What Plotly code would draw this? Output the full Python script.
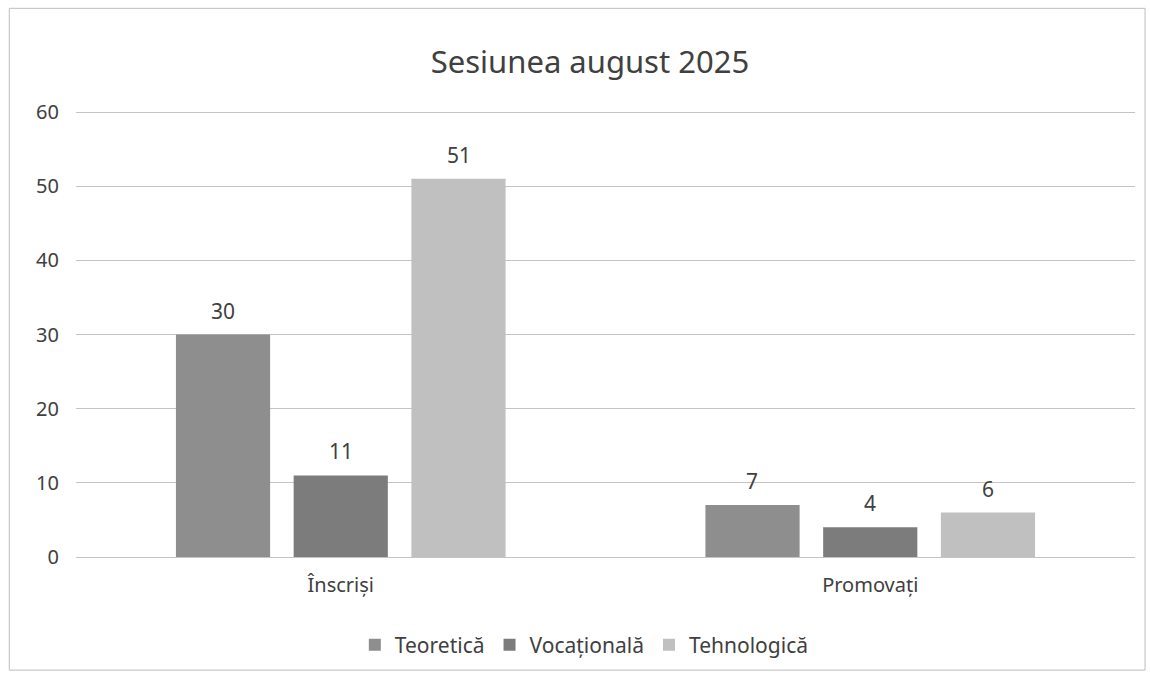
import plotly.graph_objects as go

categories = ["Înscriși", "Promovați"]
series_names = ["Teoretică", "Vocațională", "Tehnologică"]
teoretica = [30, 7]
vocationala = [11, 4]
tehnologica = [51, 6]
y_ticks = [0, 10, 20, 30, 40, 50, 60]

colors = ["#8e8e8e", "#7c7c7c", "#c0c0c0"]
values = [teoretica, vocationala, tehnologica]

# bar slot width in px, used to place value labels over each bar
slot_px = 530 * (1 - 0.333) / 3
label_shift = [-slot_px, 0, slot_px]

fig = go.Figure()
annotations = []
for i, (name, vals, col) in enumerate(zip(series_names, values, colors)):
    fig.add_trace(go.Bar(
        x=categories,
        y=vals,
        name=name,
        marker=dict(color=col, line=dict(width=0)),
    ))
    for cat, v in zip(categories, vals):
        annotations.append(dict(
            x=cat, y=v, xref="x", yref="y",
            text=str(v), showarrow=False,
            xshift=label_shift[i], yshift=24,
            yanchor="middle",
            font=dict(size=21, color="#404040"),
        ))

fig.update_layout(
    width=1150,
    height=679,
    paper_bgcolor="white",
    plot_bgcolor="white",
    font=dict(family="Noto Sans, Open Sans, sans-serif", color="#404040"),
    title=dict(
        text="Sesiunea august 2025",
        x=0.513, xanchor="center",
        y=1 - 62 / 679, yanchor="middle",
        font=dict(size=31, color="#404040"),
    ),
    margin=dict(l=76, r=15, t=108, b=122),
    barmode="group",
    bargap=0.333,
    bargroupgap=0.2,
    showlegend=True,
    legend=dict(
        orientation="h",
        x=0.48, xanchor="center",
        y=-0.196, yanchor="middle",
        font=dict(size=21, color="#404040"),
        itemwidth=30,
        traceorder="normal",
    ),
    xaxis=dict(
        showgrid=False,
        showline=True,
        linecolor="#c4c4c4",
        linewidth=1,
        ticks="",
        tickfont=dict(size=20, color="#404040"),
        ticklabelstandoff=10,
    ),
    yaxis=dict(
        range=[0, 60.55],
        tickvals=y_ticks,
        showgrid=True,
        gridcolor="#c4c4c4",
        gridwidth=1,
        zeroline=False,
        showline=False,
        ticks="",
        tickfont=dict(size=20, color="#404040"),
        ticklabelstandoff=16,
    ),
    annotations=annotations,
    shapes=[dict(
        type="rect", xref="paper", yref="paper",
        x0=-0.063, x1=1.0095, y0=-0.252, y1=1.222,
        line=dict(color="#bdbdbd", width=1),
        fillcolor="rgba(0,0,0,0)",
    )],
)

fig.write_html(
    "out.html",
    config={"displayModeBar": False},
    post_script="document.body.style.margin='0';",
)
